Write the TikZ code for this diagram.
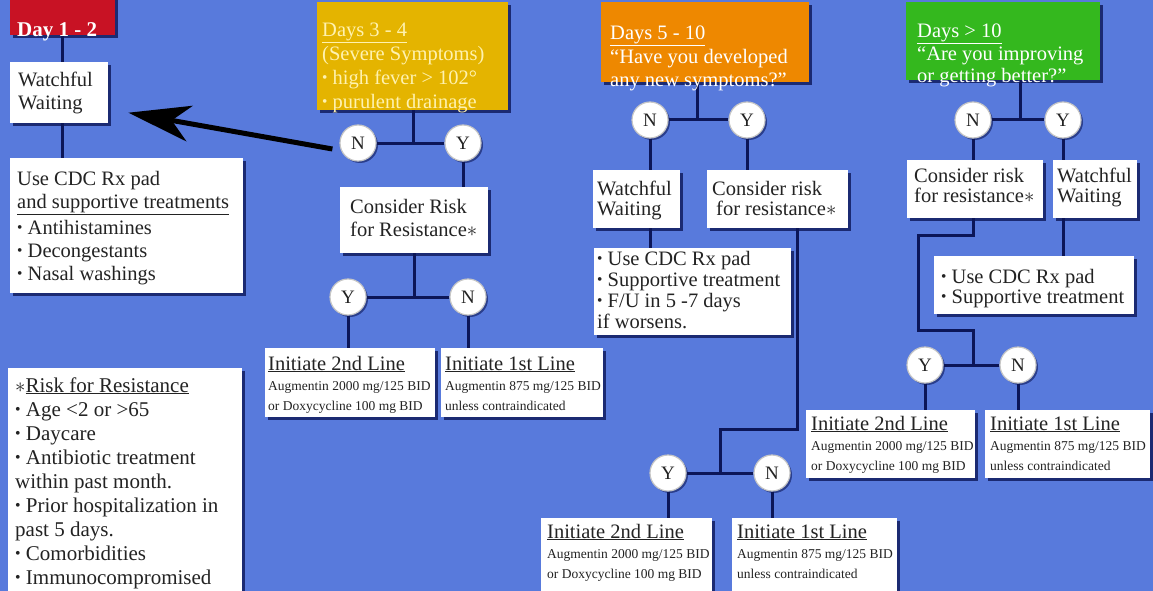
\documentclass[tikz,border=0pt]{standalone}
\usepackage{fontspec}
\setmainfont{Liberation Serif}
\usetikzlibrary{calc,shadows,arrows.meta}
\pgfdeclarelayer{background}
\pgfsetlayers{background,main}
\definecolor{bg}{RGB}{88,122,220}
\definecolor{navy}{RGB}{12,22,88}
\definecolor{dayred}{RGB}{200,18,36}
\definecolor{daygold}{RGB}{228,180,0}
\definecolor{dayorange}{RGB}{238,136,0}
\definecolor{daygreen}{RGB}{52,184,30}
\definecolor{goldtext}{RGB}{255,242,175}
\definecolor{inktext}{RGB}{35,35,35}
\newcommand\bul{\raisebox{0.08em}{\scalebox{0.75}{•}}\ }
\newcommand\rxsmall{\fontsize{13.5}{20}\selectfont}
\tikzset{
  box/.style={inner sep=0pt, drop shadow={shadow xshift=2.5pt, shadow yshift=-2.5pt, fill=navy, opacity=0.8}},
  txt/.style={inner sep=0pt, font=\fontsize{20.5}{23}\selectfont, text=inktext},
  yn/.style={circle, fill=white, draw=gray!45, line width=1.2pt, minimum size=36pt, inner sep=0pt,
    font=\fontsize{19}{19}\selectfont, text=inktext,
    drop shadow={shadow xshift=2pt, shadow yshift=-2pt, fill=navy, opacity=0.6}},
  conn/.style={draw=navy, line width=3pt},
  bigarrow/.style={draw=black, line width=5pt, -{Stealth[length=62pt,width=36pt,inset=18pt]}},
}
% name, fill, x,y, w, h, dx,dy, text
\newcommand\bx[7]{%
  \node[box, fill=#2, minimum width=#4pt, minimum height=#5pt, anchor=north west] (#1) at (#3) {};
  \node[txt, anchor=base west] (#1t) at ($(#1.north west)+(#6)$) {\parbox[t]{#4pt}{\raggedright #7}};
}
\begin{document}
\begin{tikzpicture}[x=1pt,y=-1pt]
\useasboundingbox (0,0) rectangle (1153,591);
\begin{pgfonlayer}{background}
\fill[bg] (0,0) rectangle (1153,591);
\end{pgfonlayer}

% ---- Day 1-2
\bx{d1}{dayred}{10,-3}{105}{38}{7,26}{\color{white}\fontsize{21}{23}\selectfont\bfseries Day 1 - 2}
\bx{ww1}{white}{10,62}{98}{61}{8,25}{Watchful\\Waiting}
\bx{cdc1}{white}{10,158}{233}{135}{7,27}{Use CDC Rx pad\\\underline{and supportive treatments}\\[3pt]\bul Antihistamines\\\bul Decongestants\\\bul Nasal washings}

% ---- Days 3-4
\bx{d3}{daygold}{317,2}{191}{108}{5,21}{\color{goldtext}\fontsize{20.5}{24}\selectfont\underline{Days 3 - 4}\\(Severe Symptoms)\\\bul high fever > 102°\\\bul purulent drainage}
\node[yn] (n1) at (358,143) {N};
\node[yn] (y1) at (463,143) {Y};
\bx{cons1}{white}{340,187}{148}{66}{10,26}{Consider Risk\\for Resistance$\ast$}
\node[yn] (y2) at (348,297) {Y};
\node[yn] (n2) at (468,297) {N};
\bx{i2a}{white}{265,348}{170}{69}{3,22}{\underline{Initiate 2nd Line}\\\rxsmall Augmentin 2000 mg/125 BID\\or Doxycycline 100 mg BID}
\bx{i1a}{white}{441,348}{162}{69}{4,22}{\underline{Initiate 1st Line}\\\rxsmall Augmentin 875 mg/125 BID\\unless contraindicated}

% ---- Days 5-10
\bx{d5}{dayorange}{601,2}{208}{80}{9,24}{\color{white}\fontsize{20.5}{23.5}\selectfont\underline{Days 5 - 10}\\“Have you developed\\any new symptoms?”}
\node[yn] (n3) at (650,120) {N};
\node[yn] (y3) at (747,120) {Y};
\bx{ww2}{white}{593,170}{87}{58}{4,25}{\fontsize{20.5}{20}\selectfont Watchful\\Waiting}
\bx{cons2}{white}{707,170}{141}{58}{5,25}{\fontsize{20.5}{20}\selectfont Consider risk\\\hspace*{4pt}for resistance$\ast$}
\bx{cdc2}{white}{594,248}{197}{87}{3,17}{\fontsize{20.5}{21}\selectfont\bul Use CDC Rx pad\\\bul Supportive treatment\\\bul F/U in 5 -7 days\\if worsens.}
\node[yn] (y4) at (668,473) {Y};
\node[yn] (n4) at (772,473) {N};
\bx{i2b}{white}{541,518}{171}{80}{6,20}{\underline{Initiate 2nd Line}\\\rxsmall Augmentin 2000 mg/125 BID\\or Doxycycline 100 mg BID}
\bx{i1b}{white}{732,518}{165}{80}{5,20}{\underline{Initiate 1st Line}\\\rxsmall Augmentin 875 mg/125 BID\\unless contraindicated}

% ---- Days > 10
\bx{d10}{daygreen}{906,2}{194}{78}{11,22}{\color{white}\fontsize{20.5}{22.5}\selectfont\underline{Days > 10}\\“Are you improving\\or getting better?”}
\node[yn] (n5) at (973,120) {N};
\node[yn] (y5) at (1063,120) {Y};
\bx{cons3}{white}{907,160}{136}{58}{7,22}{\fontsize{20.5}{20}\selectfont Consider risk\\for resistance$\ast$}
\bx{ww3}{white}{1053,160}{84}{58}{4,22}{\fontsize{20.5}{20}\selectfont Watchful\\Waiting}
\bx{cdc3}{white}{934,256}{200}{58}{7,27}{\fontsize{20.5}{20}\selectfont\bul Use CDC Rx pad\\\bul Supportive treatment}
\node[yn] (y6) at (925,365) {Y};
\node[yn] (n6) at (1018,365) {N};
\bx{i2c}{white}{806,410}{169}{68}{5,20}{\underline{Initiate 2nd Line}\\\rxsmall Augmentin 2000 mg/125 BID\\or Doxycycline 100 mg BID}
\bx{i1c}{white}{985,410}{165}{68}{5,20}{\underline{Initiate 1st Line}\\\rxsmall Augmentin 875 mg/125 BID\\unless contraindicated}

% ---- Risk legend
\bx{risk}{white}{8,368}{234}{240}{7,24}{\fontsize{21}{24}\selectfont$\ast$\underline{Risk for Resistance}\\\bul Age <2 or >65\\\bul Daycare\\\bul Antibiotic treatment\\within past month.\\\bul Prior hospitalization in\\past 5 days.\\\bul Comorbidities\\\bul Immunocompromised}

% ---- connectors
\coordinate (j1) at (413,143);
\coordinate (j2) at (414,297);
\coordinate (j3) at (697,120);
\coordinate (k1) at (797,429);
\coordinate (j4) at (720,473);
\coordinate (j5) at (1020,120);
\coordinate (k2) at (918,235);
\coordinate (k3) at (918,330);
\coordinate (j6) at (973,365);
\begin{pgfonlayer}{background}
\draw[conn] (d1.south) -- (d1.south |- ww1.north);
\draw[conn] (ww1.south -| d1.south) -- (cdc1.north -| d1.south);
\draw[conn] (d3.south -| j1) -- (j1);
\draw[conn] (n1) -- (y1);
\draw[conn] (y1) -- (y1 |- cons1.north);
\draw[conn] (cons1.south -| j2) -- (j2);
\draw[conn] (y2) -- (n2);
\draw[conn] (y2) -- (y2 |- i2a.north);
\draw[conn] (n2) -- (n2 |- i1a.north);
\draw[conn] (d5.south -| j3) -- (j3);
\draw[conn] (n3) -- (y3);
\draw[conn] (n3) -- (n3 |- ww2.north);
\draw[conn] (ww2.south -| n3) -- (cdc2.north -| n3);
\draw[conn] (y3) -- (y3 |- cons2.north);
\draw[conn] (cons2.south -| k1) -- (k1) -- (k1 -| j4) -- (j4);
\draw[conn] (y4) -- (n4);
\draw[conn] (y4) -- (y4 |- i2b.north);
\draw[conn] (n4) -- (n4 |- i1b.north);
\draw[conn] (d10.south -| j5) -- (j5);
\draw[conn] (n5) -- (y5);
\draw[conn] (n5) -- (n5 |- cons3.north);
\draw[conn] (y5) -- (y5 |- ww3.north);
\draw[conn] (ww3.south -| y5) -- (cdc3.north -| y5);
\draw[conn] (cons3.south -| j6) -- (j6 |- k2) -- (k2) -- (k3) -- (k3 -| j6) -- (j6);
\draw[conn] (y6) -- (n6);
\draw[conn] (y6) -- (y6 |- i2c.north);
\draw[conn] (n6) -- (n6 |- i1c.north);
\end{pgfonlayer}

% ---- big arrow
\draw[bigarrow] ($(n1.west)+(-7,6)$) -- ($(ww1.east)+(20,20)$);
\end{tikzpicture}
\end{document}
